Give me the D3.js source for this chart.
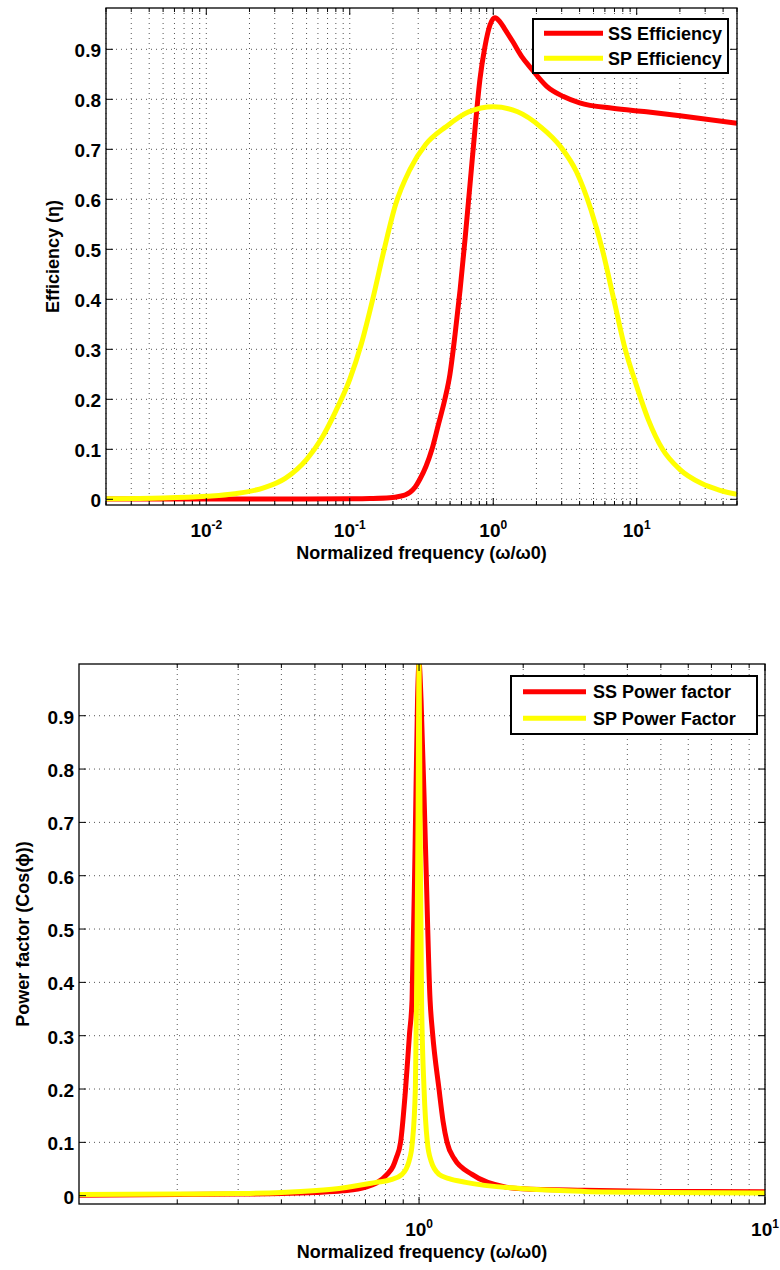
<!DOCTYPE html>
<html lang="en">
<head>
<meta charset="UTF-8">
<title>SS / SP efficiency and power factor</title>
<script src="https://d3js.org/d3.v7.min.js"></script>
<style>
  body { margin: 0; background: #fff; }
  svg text { font-family: "Liberation Sans", Arial, Helvetica, sans-serif; font-weight: bold; fill: #000; }
</style>
</head>
<body>
<script>
// ---- top panel: efficiency vs normalized frequency ----
const effFreqSS = [0.002, 0.01, 0.05, 0.1, 0.138, 0.19, 0.224, 0.245, 0.263, 0.285, 0.308, 0.34, 0.374, 0.415, 0.46, 0.499, 0.542, 0.588, 0.636, 0.689, 0.746, 0.808, 0.875, 0.948, 1.028, 1.114, 1.207, 1.37, 1.585, 1.8, 2.36, 3.06, 4.0, 6.8, 11.7, 20, 50];
const effSS     = [0.0005, 0.0005, 0.0007, 0.001, 0.0015, 0.003, 0.006, 0.009, 0.014, 0.024, 0.04, 0.066, 0.1, 0.15, 0.2, 0.25, 0.33, 0.42, 0.52, 0.63, 0.74, 0.84, 0.905, 0.948, 0.963, 0.955, 0.94, 0.915, 0.885, 0.865, 0.826, 0.806, 0.793, 0.782, 0.775, 0.767, 0.752];
const effFreqSP = [0.002, 0.005, 0.01, 0.0158, 0.0251, 0.0355, 0.0501, 0.0631, 0.0794, 0.1, 0.1202, 0.1445, 0.1738, 0.2089, 0.263, 0.339, 0.468, 0.676, 1, 1.479, 2.138, 2.951, 3.802, 4.786, 5.754, 6.918, 8.318, 9.772, 12.02, 15.14, 19.95, 28.18, 38.02, 50];
const effSP     = [0.001, 0.0025, 0.006, 0.011, 0.023, 0.042, 0.08, 0.12, 0.175, 0.24, 0.31, 0.4, 0.5, 0.59, 0.66, 0.71, 0.745, 0.775, 0.785, 0.775, 0.745, 0.705, 0.655, 0.58, 0.5, 0.4, 0.3, 0.235, 0.16, 0.1, 0.06, 0.032, 0.018, 0.01];
const effXTicks = [0.01, 0.1, 1, 10];
const effXExp   = ["-2", "-1", "0", "1"];
const effYTicks = [0, 0.1, 0.2, 0.3, 0.4, 0.5, 0.6, 0.7, 0.8, 0.9];
const effLegend = ["SS Efficiency", "SP Efficiency"];

// ---- bottom panel: power factor vs normalized frequency ----
const pfFreqSS = [0.104, 0.2, 0.3, 0.4, 0.5, 0.6, 0.7014, 0.8082, 0.8411, 0.8583, 0.8842, 0.9141, 0.9388, 0.9545, 0.9737, 0.990, 1.0, 1.0134, 1.0442, 1.076, 1.094, 1.142, 1.173, 1.205, 1.262, 1.423, 1.784, 1.985, 3, 5, 10];
const pfSS     = [0.001, 0.002, 0.003, 0.004, 0.006, 0.009, 0.016, 0.04, 0.055, 0.07, 0.1, 0.2, 0.305, 0.367, 0.65, 0.93, 1.0, 0.93, 0.65, 0.367, 0.305, 0.2, 0.14, 0.1, 0.07, 0.04, 0.016, 0.013, 0.01, 0.008, 0.0075];
const pfFreqSP = [0.104, 0.2, 0.3, 0.4, 0.5604, 0.7514, 0.83, 0.893, 0.9357, 0.9564, 0.9757, 0.9835, 0.9934, 1.0, 1.0067, 1.0168, 1.0338, 1.0568, 1.0832, 1.1423, 1.221, 1.3647, 2.1202, 3, 5, 10];
const pfSP     = [0.002, 0.003, 0.004, 0.006, 0.012, 0.025, 0.03, 0.04, 0.065, 0.1, 0.2, 0.367, 0.7, 1.0, 0.7, 0.367, 0.2, 0.1, 0.065, 0.04, 0.032, 0.025, 0.012, 0.008, 0.006, 0.005];
const pfXTicks = [1, 10];
const pfXExp   = ["0", "1"];
const pfYTicks = [0, 0.1, 0.2, 0.3, 0.4, 0.5, 0.6, 0.7, 0.8, 0.9];
const pfLegend = ["SS Power factor", "SP Power Factor"];

const xTitle = "Normalized frequency (\u03c9/\u03c90)";
const RED = "#ff0000", YELLOW = "#ffff00";

const svg = d3.select("body").append("svg").attr("width", 780).attr("height", 1270);

drawPanel({
    id: "eff", left: 106, right: 737, top: 8, bottom: 505,
    xDomain: [0.002, 50], yDomain: [-0.0114, 0.9826],
    series: [[effFreqSS, effSS, RED], [effFreqSP, effSP, YELLOW]],
    xTicks: effXTicks, xExp: effXExp, yTicks: effYTicks,
    yTitle: "Efficiency (\u03b7)", yTitleX: 59,
    legend: effLegend, lg: {x: 533, y: 19, w: 195, h: 54, line0: 544, line1: 603, textX: 608, rowY: [33.3, 58.3]}
});

drawPanel({
    id: "pf", left: 79, right: 765, top: 664, bottom: 1204,
    xDomain: [0.104, 10], yDomain: [-0.0156, 0.997],
    series: [[pfFreqSS, pfSS, RED], [pfFreqSP, pfSP, YELLOW]],
    xTicks: pfXTicks, xExp: pfXExp, yTicks: pfYTicks,
    yTitle: "Power factor (Cos(\u03d5))", yTitleX: 29,
    legend: pfLegend, lg: {x: 511, y: 676, w: 246, h: 58, line0: 523, line1: 586, textX: 593, rowY: [691.7, 718.3]}
});

function logGrid(domain) {
    // every k*10^e inside the domain (major + minor)
    let out = [];
    let e0 = Math.floor(Math.log10(domain[0])), e1 = Math.ceil(Math.log10(domain[1]));
    for (let e = e0; e <= e1; e++) {
        for (let k = 1; k < 10; k++) {
            let v = k * Math.pow(10, e);
            if (v >= domain[0] * 0.9999 && v <= domain[1] * 1.0001) out.push(v);
        }
    }
    return out;
}

function drawPanel(p) {
    const x = d3.scaleLog().domain(p.xDomain).range([p.left, p.right]);
    const y = d3.scaleLinear().domain(p.yDomain).range([p.bottom, p.top]);
    const g = svg.append("g");
    const gridX = logGrid(p.xDomain);
    const isMajor = v => Math.abs(Math.log10(v) - Math.round(Math.log10(v))) < 1e-6;

    // dotted grid
    g.selectAll(null).data(gridX).join("line")
        .attr("x1", d => x(d)).attr("x2", d => x(d))
        .attr("y1", p.top).attr("y2", p.bottom)
        .attr("stroke", "#555").attr("stroke-width", 1).attr("stroke-dasharray", "1,4");
    g.selectAll(null).data(p.yTicks).join("line")
        .attr("x1", p.left).attr("x2", p.right)
        .attr("y1", d => y(d)).attr("y2", d => y(d))
        .attr("stroke", "#555").attr("stroke-width", 1).attr("stroke-dasharray", "1,4");

    // data lines
    g.append("clipPath").attr("id", "clip-" + p.id).append("rect")
        .attr("x", p.left).attr("y", p.top).attr("width", p.right - p.left).attr("height", p.bottom - p.top);
    const line = d3.line().x(d => x(d[0])).y(d => y(d[1])).curve(d3.curveMonotoneX);
    p.series.forEach(s => {
        g.append("path").datum(d3.zip(s[0], s[1]))
            .attr("d", line).attr("fill", "none").attr("stroke", s[2])
            .attr("stroke-width", 5).attr("stroke-linejoin", "round")
            .attr("clip-path", "url(#clip-" + p.id + ")");
    });

    // frame
    g.append("rect").attr("x", p.left).attr("y", p.top)
        .attr("width", p.right - p.left).attr("height", p.bottom - p.top)
        .attr("fill", "none").attr("stroke", "#000").attr("stroke-width", 1.3);

    // x ticks (inside, top and bottom)
    gridX.forEach(v => {
        const len = isMajor(v) ? 7 : 4;
        g.append("line").attr("x1", x(v)).attr("x2", x(v)).attr("y1", p.bottom).attr("y2", p.bottom - len).attr("stroke", "#000");
        g.append("line").attr("x1", x(v)).attr("x2", x(v)).attr("y1", p.top).attr("y2", p.top + len).attr("stroke", "#000");
    });
    // y ticks (inside, left and right)
    p.yTicks.forEach(v => {
        g.append("line").attr("x1", p.left).attr("x2", p.left + 7).attr("y1", y(v)).attr("y2", y(v)).attr("stroke", "#000");
        g.append("line").attr("x1", p.right).attr("x2", p.right - 7).attr("y1", y(v)).attr("y2", y(v)).attr("stroke", "#000");
    });

    // tick labels
    g.selectAll(null).data(p.yTicks).join("text")
        .attr("x", p.left - 5).attr("y", d => y(d)).attr("dy", "0.42em")
        .attr("text-anchor", "end").attr("font-size", 19)
        .text(d => d === 0 ? "0" : d.toFixed(1));
    p.xTicks.forEach((v, i) => {
        const t = g.append("text").attr("x", x(v)).attr("y", p.bottom + 32)
            .attr("text-anchor", "middle").attr("font-size", 19);
        t.append("tspan").text("10");
        t.append("tspan").attr("dy", -8).attr("font-size", 12).text(p.xExp[i]);
    });

    // axis titles
    g.append("text").attr("x", (p.left + p.right) / 2).attr("y", p.bottom + 54)
        .attr("text-anchor", "middle").attr("font-size", 18).text(xTitle);
    g.append("text")
        .attr("transform", "translate(" + p.yTitleX + "," + (p.top + p.bottom) / 2 + ") rotate(-90)")
        .attr("text-anchor", "middle").attr("font-size", 18).text(p.yTitle);

    // legend
    const lg = p.lg;
    g.append("rect").attr("x", lg.x).attr("y", lg.y).attr("width", lg.w).attr("height", lg.h)
        .attr("fill", "#fff").attr("stroke", "#000").attr("stroke-width", 2);
    p.legend.forEach((name, i) => {
        g.append("line").attr("x1", lg.line0).attr("x2", lg.line1)
            .attr("y1", lg.rowY[i]).attr("y2", lg.rowY[i])
            .attr("stroke", p.series[i][2]).attr("stroke-width", 5);
        g.append("text").attr("x", lg.textX).attr("y", lg.rowY[i]).attr("dy", "0.36em")
            .attr("font-size", 18).text(name);
    });
}
</script>
</body>
</html>
